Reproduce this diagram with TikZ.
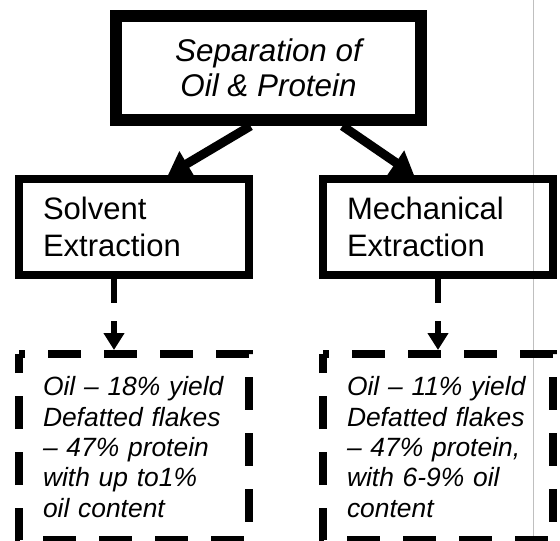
\documentclass[tikz,border=0pt]{standalone}
\usepackage{fontspec}
\setmainfont{Liberation Sans}
\usetikzlibrary{arrows.meta}

\begin{document}
\begin{tikzpicture}[line cap=butt,line join=miter,x=1pt,y=-1pt,
		topbox/.style={draw,line width=12pt,minimum width=305pt,minimum height=104pt,inner sep=0pt,align=center,font=\fontsize{31.4}{35}\selectfont\itshape},
		methodbox/.style={draw,line width=8pt,minimum height=96pt,inner xsep=24pt,inner ysep=0pt,text width=182pt,align=left,font=\fontsize{31}{37}\selectfont},
		resultbox/.style={outer sep=0pt,minimum height=186pt,inner xsep=24pt,inner ysep=0pt,text width=182pt,align=left,font=\fontsize{26.4}{30.3}\selectfont\itshape},
		dashborder/.style={line width=8pt,dash pattern=on 33pt off 23pt,dash phase=27pt},
		thickarrow/.style={line width=9pt,-{Triangle[length=22pt,width=28pt]}},
		dasharrow/.style={line width=5.5pt,dash pattern=on 24pt off 18pt,-{Triangle[length=17pt,width=20pt]}}]
			\clip (0,0) rectangle (560,541);
			\useasboundingbox (0,0) rectangle (560,541);
			% fold line of the scan
			\draw[black!25,line width=1pt] (533,0) -- (533,541);
			% boxes
			\node[topbox] (sep) at (268.5,68) {Separation of\\Oil \& Protein};
			\node[methodbox] (solv) at (134,227) {Solvent\\Extraction};
			\node[methodbox] (mech) at (438,227) {Mechanical\\Extraction};
			\node[resultbox] (solvres) at (134,447) {Oil -- 18\% yield\\Defatted flakes\\-- 47\% protein\\with up to1\%\\oil content};
			\node[resultbox] (mechres) at (438,447) {Oil -- 11\% yield\\Defatted flakes\\-- 47\% protein,\\with 6-9\% oil\\content};
			\draw[dashborder] (solvres.north west) -- (solvres.north east) -- (solvres.south east) -- (solvres.south west) -- cycle;
			\draw[dashborder] (mechres.north west) -- (mechres.north east) -- (mechres.south east) -- (mechres.south west) -- cycle;
			% arrows
			\draw[thickarrow] ([xshift=-18pt]sep.south) -- ([xshift=34pt]solv.north);
			\draw[thickarrow] ([xshift=74pt]sep.south) -- ([xshift=-24pt]mech.north);
			\draw[dasharrow] ([xshift=-20pt]solv.south) -- ([xshift=-20pt,yshift=4pt]solvres.north);
			\draw[dasharrow] (mech.south) -- ([yshift=4pt]mechres.north);
		\end{tikzpicture}
\end{document}
